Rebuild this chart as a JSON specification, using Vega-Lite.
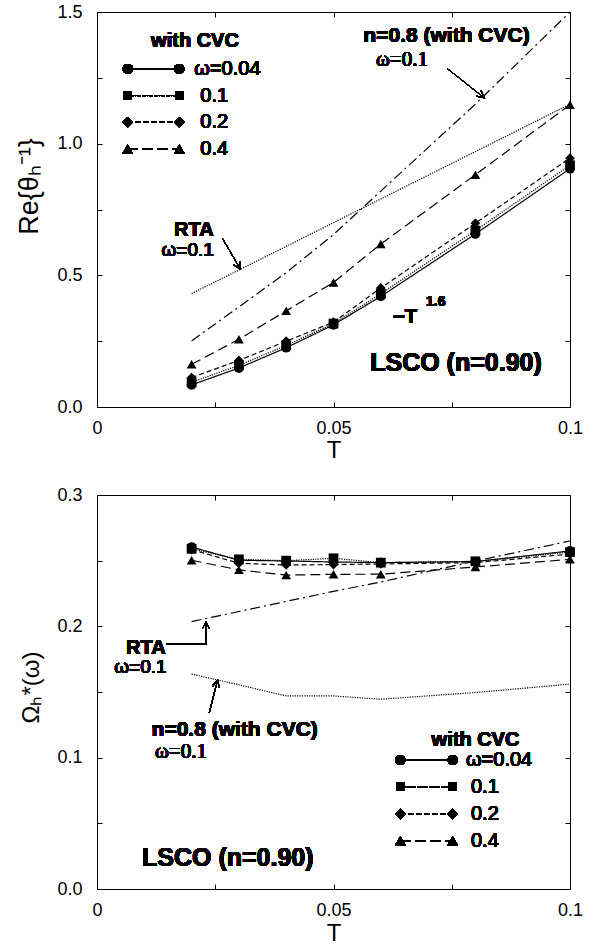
{
"$schema": "https://vega.github.io/schema/vega-lite/v6.json",
"background": "white",
"autosize": {"type": "pad"},
"padding": {"left": 14, "top": 2, "right": 5, "bottom": 2},
"bounds": "flush",
"spacing": 88,
"datasets": {
"top": [
{"s":"0.04","T":0.02,"v":0.084},{"s":"0.04","T":0.03,"v":0.148},{"s":"0.04","T":0.04,"v":0.225},{"s":"0.04","T":0.05,"v":0.312},{"s":"0.04","T":0.06,"v":0.420},{"s":"0.04","T":0.08,"v":0.657},{"s":"0.04","T":0.1,"v":0.905},
{"s":"0.1","T":0.02,"v":0.094},{"s":"0.1","T":0.03,"v":0.158},{"s":"0.1","T":0.04,"v":0.234},{"s":"0.1","T":0.05,"v":0.317},{"s":"0.1","T":0.06,"v":0.430},{"s":"0.1","T":0.08,"v":0.670},{"s":"0.1","T":0.1,"v":0.918},
{"s":"0.2","T":0.02,"v":0.112},{"s":"0.2","T":0.03,"v":0.177},{"s":"0.2","T":0.04,"v":0.250},{"s":"0.2","T":0.05,"v":0.322},{"s":"0.2","T":0.06,"v":0.452},{"s":"0.2","T":0.08,"v":0.698},{"s":"0.2","T":0.1,"v":0.945},
{"s":"0.4","T":0.02,"v":0.162},{"s":"0.4","T":0.03,"v":0.257},{"s":"0.4","T":0.04,"v":0.365},{"s":"0.4","T":0.05,"v":0.473},{"s":"0.4","T":0.06,"v":0.619},{"s":"0.4","T":0.08,"v":0.882},{"s":"0.4","T":0.1,"v":1.148},
{"s":"RTA","T":0.02,"v":0.431},{"s":"RTA","T":0.03,"v":0.52},{"s":"RTA","T":0.04,"v":0.61},{"s":"RTA","T":0.05,"v":0.70},{"s":"RTA","T":0.06,"v":0.79},{"s":"RTA","T":0.08,"v":0.97},{"s":"RTA","T":0.1,"v":1.15},
{"s":"n08","T":0.02,"v":0.251},{"s":"n08","T":0.03,"v":0.38},{"s":"n08","T":0.04,"v":0.51},{"s":"n08","T":0.05,"v":0.655},{"s":"n08","T":0.06,"v":0.82},{"s":"n08","T":0.08,"v":1.15},{"s":"n08","T":0.1,"v":1.50}
],
"bottom": [
{"s":"0.04","T":0.02,"v":0.2604},{"s":"0.04","T":0.03,"v":0.2503},{"s":"0.04","T":0.04,"v":0.2498},{"s":"0.04","T":0.05,"v":0.2490},{"s":"0.04","T":0.06,"v":0.2485},{"s":"0.04","T":0.08,"v":0.2493},{"s":"0.04","T":0.1,"v":0.2574},
{"s":"0.1","T":0.02,"v":0.2590},{"s":"0.1","T":0.03,"v":0.2510},{"s":"0.1","T":0.04,"v":0.2500},{"s":"0.1","T":0.05,"v":0.2518},{"s":"0.1","T":0.06,"v":0.2485},{"s":"0.1","T":0.08,"v":0.2495},{"s":"0.1","T":0.1,"v":0.2565},
{"s":"0.2","T":0.02,"v":0.2585},{"s":"0.2","T":0.03,"v":0.2480},{"s":"0.2","T":0.04,"v":0.2467},{"s":"0.2","T":0.05,"v":0.2470},{"s":"0.2","T":0.06,"v":0.2475},{"s":"0.2","T":0.08,"v":0.2485},{"s":"0.2","T":0.1,"v":0.2550},
{"s":"0.4","T":0.02,"v":0.2503},{"s":"0.4","T":0.03,"v":0.2430},{"s":"0.4","T":0.04,"v":0.2390},{"s":"0.4","T":0.05,"v":0.2396},{"s":"0.4","T":0.06,"v":0.2397},{"s":"0.4","T":0.08,"v":0.2452},{"s":"0.4","T":0.1,"v":0.2510},
{"s":"RTA","T":0.02,"v":0.2036},{"s":"RTA","T":0.03,"v":0.2113},{"s":"RTA","T":0.04,"v":0.2190},{"s":"RTA","T":0.05,"v":0.2266},{"s":"RTA","T":0.06,"v":0.2338},{"s":"RTA","T":0.08,"v":0.2497},{"s":"RTA","T":0.1,"v":0.2650},
{"s":"n08","T":0.02,"v":0.1636},{"s":"n08","T":0.03,"v":0.1555},{"s":"n08","T":0.04,"v":0.1470},{"s":"n08","T":0.05,"v":0.1470},{"s":"n08","T":0.06,"v":0.1445},{"s":"n08","T":0.08,"v":0.1496},{"s":"n08","T":0.1,"v":0.1560}
]
},
"vconcat": [
{
"width": 473, "height": 395,
"data": {"name": "top"},
"layer": [
{"transform": [{"filter": "datum.s != 'RTA' && datum.s != 'n08'"}],
 "mark": {"type": "line", "color": "black", "strokeWidth": 1.2},
 "encoding": {
  "x": {"field": "T", "type": "quantitative", "scale": {"domain": [0, 0.1], "nice": false, "zero": false},
        "axis": {"orient": "bottom", "values": [0, 0.025, 0.05, 0.075, 0.1], "labelExpr": "datum.value == 0 ? '0' : datum.value == 0.05 ? '0.05' : datum.value == 0.1 ? '0.1' : ''", "labelPadding": 17.5, "title": "T", "titleY": 31}},
  "y": {"field": "v", "type": "quantitative", "scale": {"domain": [0, 1.5], "nice": false, "zero": false},
        "axis": {"orient": "left", "values": [0, 0.25, 0.5, 0.75, 1, 1.25, 1.5], "labelExpr": "datum.value % 0.5 == 0 ? format(datum.value, '.1f') : ''", "labelPadding": 20, "title": "Re{θₕ⁻¹}", "titleFontSize": 27, "titleAlign": "center", "titleX": -54, "titleY": 174}},
  "strokeDash": {"field": "s", "type": "nominal", "scale": {"domain": ["0.04","0.1","0.2","0.4"], "range": [[1,0],[1.2,1.2],[5,3],[10,5]]}, "legend": null}
 }},
{"transform": [{"filter": "datum.s == 'RTA'"}],
 "mark": {"type": "line", "color": "black", "strokeWidth": 1.2, "strokeDash": [1.2, 1.2]},
 "encoding": {"x": {"field": "T", "type": "quantitative", "axis": null}, "y": {"field": "v", "type": "quantitative", "axis": null}}},
{"transform": [{"filter": "datum.s == 'n08'"}],
 "mark": {"type": "line", "color": "black", "strokeWidth": 1.2, "strokeDash": [10, 4, 2, 4]},
 "encoding": {"x": {"field": "T", "type": "quantitative", "axis": null}, "y": {"field": "v", "type": "quantitative", "axis": null}}},
{"transform": [{"filter": "datum.s != 'RTA' && datum.s != 'n08'"}],
 "mark": {"type": "point", "filled": true, "color": "black", "opacity": 1, "size": 95},
 "encoding": {
  "x": {"field": "T", "type": "quantitative", "axis": {"orient": "top", "values": [0, 0.025, 0.05, 0.075, 0.1], "labels": false, "title": null}},
  "y": {"field": "v", "type": "quantitative", "axis": {"orient": "right", "values": [0, 0.25, 0.5, 0.75, 1, 1.25, 1.5], "labels": false, "title": null}},
  "shape": {"field": "s", "type": "nominal", "scale": {"domain": ["0.04","0.1","0.2","0.4"], "range": ["circle","square","diamond","triangle-up"]}, "legend": null}
 }},
{"mark": {"type": "rule", "color": "black", "strokeWidth": 1.3},
 "encoding": {"x": {"datum": 0.00649, "axis": null}, "x2": {"datum": 0.0174}, "y": {"datum": 1.2840, "axis": null}}},
{"mark": {"type": "rule", "color": "black", "strokeWidth": 1.2, "strokeDash": [1.2, 1.2]},
 "encoding": {"x": {"datum": 0.00649, "axis": null}, "x2": {"datum": 0.0174}, "y": {"datum": 1.1825, "axis": null}}},
{"mark": {"type": "rule", "color": "black", "strokeWidth": 1.2, "strokeDash": [5, 3]},
 "encoding": {"x": {"datum": 0.00649, "axis": null}, "x2": {"datum": 0.0174}, "y": {"datum": 1.0810, "axis": null}}},
{"mark": {"type": "rule", "color": "black", "strokeWidth": 1.2, "strokeDash": [10, 5]},
 "encoding": {"x": {"datum": 0.00649, "axis": null}, "x2": {"datum": 0.0174}, "y": {"datum": 0.9798, "axis": null}}},
{"mark": {"type": "point", "filled": true, "color": "black", "opacity": 1, "size": 100, "shape": "circle"},
 "encoding": {"x": {"datum": 0.00649, "axis": null}, "y": {"datum": 1.2840, "axis": null}}},
{"mark": {"type": "point", "filled": true, "color": "black", "opacity": 1, "size": 100, "shape": "circle"},
 "encoding": {"x": {"datum": 0.0174, "axis": null}, "y": {"datum": 1.2840, "axis": null}}},
{"mark": {"type": "point", "filled": true, "color": "black", "opacity": 1, "size": 70, "shape": "square"},
 "encoding": {"x": {"datum": 0.00649, "axis": null}, "y": {"datum": 1.1825, "axis": null}}},
{"mark": {"type": "point", "filled": true, "color": "black", "opacity": 1, "size": 70, "shape": "square"},
 "encoding": {"x": {"datum": 0.0174, "axis": null}, "y": {"datum": 1.1825, "axis": null}}},
{"mark": {"type": "point", "filled": true, "color": "black", "opacity": 1, "size": 110, "shape": "diamond"},
 "encoding": {"x": {"datum": 0.00649, "axis": null}, "y": {"datum": 1.0810, "axis": null}}},
{"mark": {"type": "point", "filled": true, "color": "black", "opacity": 1, "size": 110, "shape": "diamond"},
 "encoding": {"x": {"datum": 0.0174, "axis": null}, "y": {"datum": 1.0810, "axis": null}}},
{"mark": {"type": "point", "filled": true, "color": "black", "opacity": 1, "size": 110, "shape": "triangle-up"},
 "encoding": {"x": {"datum": 0.00649, "axis": null}, "y": {"datum": 0.9798, "axis": null}}},
{"mark": {"type": "point", "filled": true, "color": "black", "opacity": 1, "size": 110, "shape": "triangle-up"},
 "encoding": {"x": {"datum": 0.0174, "axis": null}, "y": {"datum": 0.9798, "axis": null}}},
{"mark": {"type": "text", "text": "ω=0.04", "font": "Liberation Sans", "fontSize": 20, "align": "left", "baseline": "middle", "color": "black"},
 "encoding": {"x": {"datum": 0.02057, "axis": null}, "y": {"datum": 1.2840, "axis": null}}},
{"mark": {"type": "text", "text": "0.1", "font": "Liberation Sans", "fontSize": 20, "align": "left", "baseline": "middle", "color": "black"},
 "encoding": {"x": {"datum": 0.02184, "axis": null}, "y": {"datum": 1.1825, "axis": null}}},
{"mark": {"type": "text", "text": "0.2", "font": "Liberation Sans", "fontSize": 20, "align": "left", "baseline": "middle", "color": "black"},
 "encoding": {"x": {"datum": 0.02184, "axis": null}, "y": {"datum": 1.0810, "axis": null}}},
{"mark": {"type": "text", "text": "0.4", "font": "Liberation Sans", "fontSize": 20, "align": "left", "baseline": "middle", "color": "black"},
 "encoding": {"x": {"datum": 0.02184, "axis": null}, "y": {"datum": 0.9798, "axis": null}}},
{"mark": {"type": "text", "text": "with CVC", "font": "Liberation Sans", "fontWeight": "bold", "fontSize": 20, "align": "center", "baseline": "alphabetic", "color": "black"},
 "encoding": {"x": {"datum": 0.02072, "axis": null}, "y": {"datum": 1.3662, "axis": null}}},
{"mark": {"type": "text", "text": "n=0.8 (with CVC)", "font": "Liberation Sans", "fontWeight": "bold", "fontSize": 21, "align": "center", "baseline": "alphabetic", "color": "black"},
 "encoding": {"x": {"datum": 0.07389, "axis": null}, "y": {"datum": 1.3852, "axis": null}}},
{"mark": {"type": "text", "text": "ω=0.1", "font": "Liberation Serif", "fontSize": 21, "align": "center", "baseline": "alphabetic", "color": "black"},
 "encoding": {"x": {"datum": 0.06448, "axis": null}, "y": {"datum": 1.2966, "axis": null}}},
{"mark": {"type": "text", "text": "RTA", "font": "Liberation Sans", "fontWeight": "bold", "fontSize": 20, "align": "center", "baseline": "alphabetic", "color": "black"},
 "encoding": {"x": {"datum": 0.02047, "axis": null}, "y": {"datum": 0.6502, "axis": null}}},
{"mark": {"type": "text", "text": "ω=0.1", "font": "Liberation Sans", "fontSize": 19, "align": "center", "baseline": "alphabetic", "color": "black"},
 "encoding": {"x": {"datum": 0.01917, "axis": null}, "y": {"datum": 0.5741, "axis": null}}},
{"mark": {"type": "text", "text": "~T", "font": "Liberation Sans", "fontWeight": "bold", "fontSize": 20, "align": "left", "baseline": "alphabetic", "color": "black"},
 "encoding": {"x": {"datum": 0.06258, "axis": null}, "y": {"datum": 0.3205, "axis": null}}},
{"mark": {"type": "text", "text": "1.6", "font": "Liberation Sans", "fontWeight": "bold", "fontSize": 14, "align": "left", "baseline": "alphabetic", "color": "black"},
 "encoding": {"x": {"datum": 0.06956, "axis": null}, "y": {"datum": 0.384, "axis": null}}},
{"mark": {"type": "text", "text": "LSCO (n=0.90)", "font": "Liberation Sans", "fontWeight": "bold", "fontSize": 25, "align": "center", "baseline": "alphabetic", "color": "black"},
 "encoding": {"x": {"datum": 0.0759, "axis": null}, "y": {"datum": 0.1369, "axis": null}}},
{"mark": {"type": "rule", "color": "black", "strokeWidth": 1},
 "encoding": {"x": {"datum": 0.02658, "axis": null}, "y": {"datum": 0.6388, "axis": null}, "x2": {"datum": 0.03030}, "y2": {"datum": 0.5236}}},
{"mark": {"type": "point", "shape": "M-1,-0.5L0,0L-1,0.5", "filled": false, "color": "black", "strokeWidth": 1, "size": 196, "angle": 59.9, "opacity": 1},
 "encoding": {"x": {"datum": 0.03030, "axis": null}, "y": {"datum": 0.5236, "axis": null}}},
{"mark": {"type": "rule", "color": "black", "strokeWidth": 1},
 "encoding": {"x": {"datum": 0.07414, "axis": null}, "y": {"datum": 1.2840, "axis": null}, "x2": {"datum": 0.08188}, "y2": {"datum": 1.1738}}},
{"mark": {"type": "point", "shape": "M-1,-0.5L0,0L-1,0.5", "filled": false, "color": "black", "strokeWidth": 1, "size": 196, "angle": 38.4, "opacity": 1},
 "encoding": {"x": {"datum": 0.08188, "axis": null}, "y": {"datum": 1.1738, "axis": null}}}
]
},
{
"width": 473, "height": 394,
"data": {"name": "bottom"},
"layer": [
{"transform": [{"filter": "datum.s != 'RTA' && datum.s != 'n08'"}],
 "mark": {"type": "line", "color": "black", "strokeWidth": 1.2},
 "encoding": {
  "x": {"field": "T", "type": "quantitative", "scale": {"domain": [0, 0.1], "nice": false, "zero": false},
        "axis": {"orient": "bottom", "values": [0, 0.025, 0.05, 0.075, 0.1], "labelExpr": "datum.value == 0 ? '0' : datum.value == 0.05 ? '0.05' : datum.value == 0.1 ? '0.1' : ''", "labelPadding": 17.5, "title": "T", "titleY": 32}},
  "y": {"field": "v", "type": "quantitative", "scale": {"domain": [0, 0.3], "nice": false, "zero": false},
        "axis": {"orient": "left", "values": [0, 0.05, 0.1, 0.15, 0.2, 0.25, 0.3], "labelExpr": "indexof([0, 0.1, 0.2, 0.3], datum.value) >= 0 ? format(datum.value, '.1f') : ''", "labelPadding": 20, "title": "Ωₕ*(ω)", "titleAlign": "center", "titleX": -54, "titleY": 192}},
  "strokeDash": {"field": "s", "type": "nominal", "scale": {"domain": ["0.04","0.1","0.2","0.4"], "range": [[1,0],[1.2,1.2],[5,3],[10,5]]}, "legend": null}
 }},
{"transform": [{"filter": "datum.s == 'RTA'"}],
 "mark": {"type": "line", "color": "black", "strokeWidth": 1.2, "strokeDash": [10, 4, 2, 4]},
 "encoding": {"x": {"field": "T", "type": "quantitative", "axis": null}, "y": {"field": "v", "type": "quantitative", "axis": null}}},
{"transform": [{"filter": "datum.s == 'n08'"}],
 "mark": {"type": "line", "color": "black", "strokeWidth": 1.2, "strokeDash": [1.2, 1.2]},
 "encoding": {"x": {"field": "T", "type": "quantitative", "axis": null}, "y": {"field": "v", "type": "quantitative", "axis": null}}},
{"transform": [{"filter": "datum.s != 'RTA' && datum.s != 'n08'"}],
 "mark": {"type": "point", "filled": true, "color": "black", "opacity": 1, "size": 95},
 "encoding": {
  "x": {"field": "T", "type": "quantitative", "axis": {"orient": "top", "values": [0, 0.025, 0.05, 0.075, 0.1], "labels": false, "title": null}},
  "y": {"field": "v", "type": "quantitative", "axis": {"orient": "right", "values": [0, 0.05, 0.1, 0.15, 0.2, 0.25, 0.3], "labels": false, "title": null}},
  "shape": {"field": "s", "type": "nominal", "scale": {"domain": ["0.04","0.1","0.2","0.4"], "range": ["circle","square","diamond","triangle-up"]}, "legend": null}
 }},
{"mark": {"type": "rule", "color": "black", "strokeWidth": 1.3},
 "encoding": {"x": {"datum": 0.06412, "axis": null}, "x2": {"datum": 0.0752}, "y": {"datum": 0.09814, "axis": null}}},
{"mark": {"type": "rule", "color": "black", "strokeWidth": 1.2, "strokeDash": [1.2, 1.2]},
 "encoding": {"x": {"datum": 0.06412, "axis": null}, "x2": {"datum": 0.0752}, "y": {"datum": 0.07783, "axis": null}}},
{"mark": {"type": "rule", "color": "black", "strokeWidth": 1.2, "strokeDash": [5, 3]},
 "encoding": {"x": {"datum": 0.06412, "axis": null}, "x2": {"datum": 0.0752}, "y": {"datum": 0.05706, "axis": null}}},
{"mark": {"type": "rule", "color": "black", "strokeWidth": 1.2, "strokeDash": [10, 5]},
 "encoding": {"x": {"datum": 0.06412, "axis": null}, "x2": {"datum": 0.0752}, "y": {"datum": 0.03675, "axis": null}}},
{"mark": {"type": "point", "filled": true, "color": "black", "opacity": 1, "size": 100, "shape": "circle"},
 "encoding": {"x": {"datum": 0.06412, "axis": null}, "y": {"datum": 0.09814, "axis": null}}},
{"mark": {"type": "point", "filled": true, "color": "black", "opacity": 1, "size": 100, "shape": "circle"},
 "encoding": {"x": {"datum": 0.0752, "axis": null}, "y": {"datum": 0.09814, "axis": null}}},
{"mark": {"type": "point", "filled": true, "color": "black", "opacity": 1, "size": 70, "shape": "square"},
 "encoding": {"x": {"datum": 0.06412, "axis": null}, "y": {"datum": 0.07783, "axis": null}}},
{"mark": {"type": "point", "filled": true, "color": "black", "opacity": 1, "size": 70, "shape": "square"},
 "encoding": {"x": {"datum": 0.0752, "axis": null}, "y": {"datum": 0.07783, "axis": null}}},
{"mark": {"type": "point", "filled": true, "color": "black", "opacity": 1, "size": 110, "shape": "diamond"},
 "encoding": {"x": {"datum": 0.06412, "axis": null}, "y": {"datum": 0.05706, "axis": null}}},
{"mark": {"type": "point", "filled": true, "color": "black", "opacity": 1, "size": 110, "shape": "diamond"},
 "encoding": {"x": {"datum": 0.0752, "axis": null}, "y": {"datum": 0.05706, "axis": null}}},
{"mark": {"type": "point", "filled": true, "color": "black", "opacity": 1, "size": 110, "shape": "triangle-up"},
 "encoding": {"x": {"datum": 0.06412, "axis": null}, "y": {"datum": 0.03675, "axis": null}}},
{"mark": {"type": "point", "filled": true, "color": "black", "opacity": 1, "size": 110, "shape": "triangle-up"},
 "encoding": {"x": {"datum": 0.0752, "axis": null}, "y": {"datum": 0.03675, "axis": null}}},
{"mark": {"type": "text", "text": "ω=0.04", "font": "Liberation Sans", "fontSize": 20, "align": "left", "baseline": "middle", "color": "black"},
 "encoding": {"x": {"datum": 0.07801, "axis": null}, "y": {"datum": 0.09814, "axis": null}}},
{"mark": {"type": "text", "text": "0.1", "font": "Liberation Sans", "fontSize": 20, "align": "left", "baseline": "middle", "color": "black"},
 "encoding": {"x": {"datum": 0.07907, "axis": null}, "y": {"datum": 0.07783, "axis": null}}},
{"mark": {"type": "text", "text": "0.2", "font": "Liberation Sans", "fontSize": 20, "align": "left", "baseline": "middle", "color": "black"},
 "encoding": {"x": {"datum": 0.07907, "axis": null}, "y": {"datum": 0.05706, "axis": null}}},
{"mark": {"type": "text", "text": "0.4", "font": "Liberation Sans", "fontSize": 20, "align": "left", "baseline": "middle", "color": "black"},
 "encoding": {"x": {"datum": 0.07907, "axis": null}, "y": {"datum": 0.03675, "axis": null}}},
{"mark": {"type": "text", "text": "with CVC", "font": "Liberation Sans", "fontWeight": "bold", "fontSize": 20, "align": "center", "baseline": "alphabetic", "color": "black"},
 "encoding": {"x": {"datum": 0.08002, "axis": null}, "y": {"datum": 0.10902, "axis": null}}},
{"mark": {"type": "text", "text": "RTA", "font": "Liberation Sans", "fontWeight": "bold", "fontSize": 20, "align": "center", "baseline": "alphabetic", "color": "black"},
 "encoding": {"x": {"datum": 0.01032, "axis": null}, "y": {"datum": 0.17925, "axis": null}}},
{"mark": {"type": "text", "text": "ω=0.1", "font": "Liberation Sans", "fontSize": 19, "align": "center", "baseline": "alphabetic", "color": "black"},
 "encoding": {"x": {"datum": 0.00917, "axis": null}, "y": {"datum": 0.16479, "axis": null}}},
{"mark": {"type": "text", "text": "n=0.8 (with CVC)", "font": "Liberation Sans", "fontWeight": "bold", "fontSize": 21, "align": "center", "baseline": "alphabetic", "color": "black"},
 "encoding": {"x": {"datum": 0.02911, "axis": null}, "y": {"datum": 0.11663, "axis": null}}},
{"mark": {"type": "text", "text": "ω=0.1", "font": "Liberation Serif", "fontSize": 21, "align": "center", "baseline": "alphabetic", "color": "black"},
 "encoding": {"x": {"datum": 0.01776, "axis": null}, "y": {"datum": 0.10012, "axis": null}}},
{"mark": {"type": "text", "text": "LSCO (n=0.90)", "font": "Liberation Sans", "fontWeight": "bold", "fontSize": 25, "align": "center", "baseline": "alphabetic", "color": "black"},
 "encoding": {"x": {"datum": 0.02765, "axis": null}, "y": {"datum": 0.01773, "axis": null}}},
{"mark": {"type": "rule", "color": "black", "strokeWidth": 1},
 "encoding": {"x": {"datum": 0.01474, "axis": null}, "y": {"datum": 0.1864, "axis": null}, "x2": {"datum": 0.02304}, "y2": {"datum": 0.1864}}},
{"mark": {"type": "rule", "color": "black", "strokeWidth": 1},
 "encoding": {"x": {"datum": 0.02304, "axis": null}, "y": {"datum": 0.1864, "axis": null}, "x2": {"datum": 0.02304}, "y2": {"datum": 0.2036}}},
{"mark": {"type": "point", "shape": "M-1,-0.5L0,0L-1,0.5", "filled": false, "color": "black", "strokeWidth": 1, "size": 196, "angle": -90, "opacity": 1},
 "encoding": {"x": {"datum": 0.02304, "axis": null}, "y": {"datum": 0.2036, "axis": null}}},
{"mark": {"type": "rule", "color": "black", "strokeWidth": 1},
 "encoding": {"x": {"datum": 0.02374, "axis": null}, "y": {"datum": 0.13436, "axis": null}, "x2": {"datum": 0.02550}, "y2": {"datum": 0.15901}}},
{"mark": {"type": "point", "shape": "M-1,-0.5L0,0L-1,0.5", "filled": false, "color": "black", "strokeWidth": 1, "size": 196, "angle": -75.5, "opacity": 1},
 "encoding": {"x": {"datum": 0.02550, "axis": null}, "y": {"datum": 0.15901, "axis": null}}}
]
}
],
"resolve": {
 "scale": {"x": "independent", "y": "independent", "shape": "independent", "strokeDash": "independent"},
 "legend": {"shape": "independent", "strokeDash": "independent"}
},
"config": {
 "view": {"stroke": "black", "strokeWidth": 1},
 "axis": {"domain": false, "grid": false, "ticks": true, "tickColor": "black", "tickWidth": 1, "tickSize": -5,
   "labelColor": "black", "labelFont": "Liberation Sans", "labelFontSize": 18,
   "titleColor": "black", "titleFont": "Liberation Sans", "titleFontSize": 24, "titleFontWeight": "normal",
   "labelFlush": false, "labelOverlap": false},
 "text": {"color": "black"}
}
}
